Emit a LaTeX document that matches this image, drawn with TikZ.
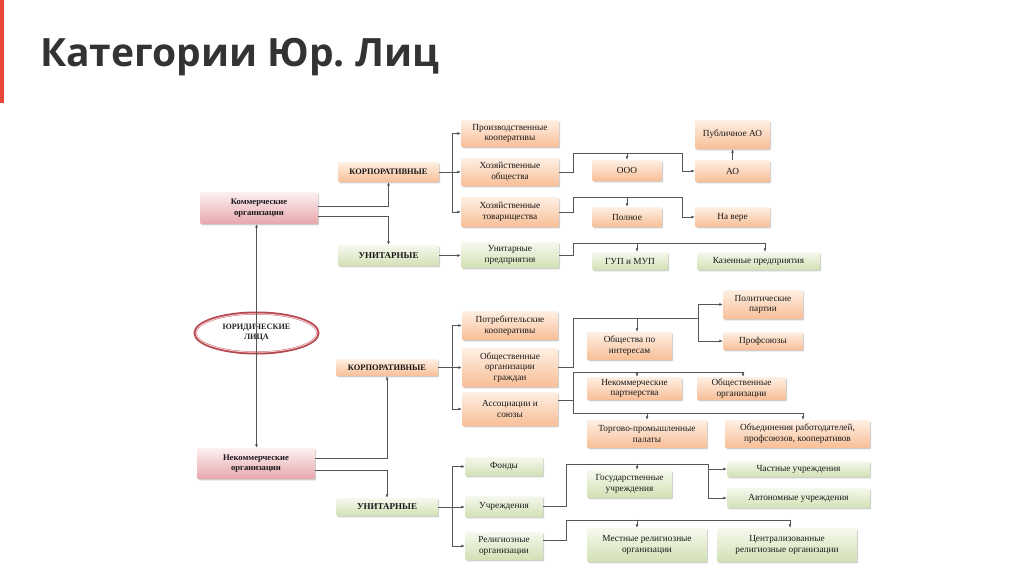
\documentclass[tikz,border=0pt]{standalone}
\usepackage{fontspec}
\setmainfont{Liberation Serif}
\newfontfamily\titlefont{Open Sans}
\usetikzlibrary{arrows.meta,shadows,shapes.geometric}
\definecolor{orT}{HTML}{FEF0E4}
\definecolor{orB}{HTML}{F8BE96}
\definecolor{grT}{HTML}{F6F9EE}
\definecolor{grB}{HTML}{D2E0B4}
\definecolor{pkT}{HTML}{FDF0F1}
\definecolor{pkB}{HTML}{E6A7AC}
\definecolor{lncol}{HTML}{555555}
\definecolor{ringcol}{HTML}{B5474D}
\definecolor{ringin}{HTML}{F4CDD0}
\definecolor{barcol}{HTML}{E8463A}
\definecolor{titlecol}{HTML}{333333}
\frenchspacing
\newcommand\mybox[7]{\node[#6, minimum width={#4-#2}, minimum height={#5-#3}] (#1) at ({(#2+#4)/2},{(#3+#5)/2}) {#7};}
\tikzset{
  box/.style={rectangle, rounded corners=1.2pt, inner sep=0.5pt, align=center, text=black!90,
    font=\fontsize{9.3}{10.8}\selectfont,
    drop shadow={shadow xshift=1.2pt, shadow yshift=-1.3pt, opacity=0.3, fill=black!60}},
  orb/.style={box, top color=orT, bottom color=orB},
  grb/.style={box, top color=grT, bottom color=grB},
  pkb/.style={box, top color=pkT, bottom color=pkB, font=\bfseries\fontsize{8.6}{10.5}\selectfont},
  hdk/.style={font=\bfseries\fontsize{8.4}{10}\selectfont},
  hdu/.style={font=\bfseries\fontsize{9}{10}\selectfont},
  ln/.style={line width=0.6pt, draw=lncol},
  arr/.style={ln, -{Latex[length=3.5pt,width=3pt]}},
}
\begin{document}
\begin{tikzpicture}[x=1pt,y=-1pt]
\useasboundingbox (0,0) rectangle (1024,574);
\fill[white] (0,0) rectangle (1024,574);
\fill[barcol] (0,0) rectangle (4,103);
\node[anchor=base west, inner sep=0, text=titlecol, font=\titlefont\bfseries\fontsize{39}{44}\selectfont] (title) at (40,66) {Категории Юр. Лиц};

% ---------- left column ----------
\mybox{kom}{200}{192}{318}{224}{pkb}{Коммерческие\\организации}
\mybox{nekom}{197}{448}{315}{479}{pkb}{Некоммерческие\\организации}
\node[ellipse, draw=ringcol, line width=3pt, minimum width=123pt, minimum height=40pt, inner sep=0,
  align=center, font=\bfseries\fontsize{8.2}{10}\selectfont, text=black!85] (yur) at (256.5,333) {ЮРИДИЧЕСКИЕ\\ЛИЦА};
\draw[ringin, line width=1pt] (yur.center) ellipse [x radius=60.6, y radius=19.2];
\draw[arr] (yur.center) -- (yur |- kom.south);
\draw[arr] (yur.center) -- (yur |- nekom.north);

% ---------- commercial ----------
\mybox{korp1}{338}{162}{439}{182}{orb,hdk}{КОРПОРАТИВНЫЕ}
\mybox{unit1}{338}{245}{439}{266}{grb,hdu}{УНИТАРНЫЕ}
\mybox{pk}{461}{120}{559}{147}{orb}{Производственные\\кооперативы}
\mybox{ho}{461}{158}{559}{186}{orb}{Хозяйственные\\общества}
\mybox{ht}{461}{197}{559}{227}{orb}{Хозяйственные\\товарищества}
\mybox{up}{461}{242}{559}{268}{grb}{Унитарные\\предприятия}
\mybox{ooo}{592}{160}{662}{181}{orb}{ООО}
\mybox{ao}{695}{160}{770}{182}{orb}{АО}
\mybox{pao}{695}{120}{770}{149}{orb}{Публичное АО}
\mybox{poln}{592}{207}{662}{227}{orb}{Полное}
\mybox{navere}{695}{207}{770}{227}{orb}{На вере}
\mybox{gup}{592}{252}{668}{270}{grb}{ГУП и МУП}
\mybox{kaz}{697}{252}{820}{270}{grb}{Казенные предприятия}

\draw[arr] (kom.east |- 0,206) -| (korp1.south);
\draw[arr] (kom.east |- 0,216) -| (unit1.north);
\draw[arr] (korp1.east) -- (ho.west);
\draw[arr] (korp1.east) -- ++(13,0) |- (pk.west);
\draw[arr] (korp1.east) -- ++(13,0) |- (ht.west);
\draw[arr] (unit1.east) -- (up.west |- unit1.east);
\draw[arr] (ho.east) -- ++(14,0) |- (682,153) |- (ao.west);
\draw[arr] (ooo.north |- 0,153) -- (ooo.north);
\draw[arr] (ao.north) -- (pao.south);
\draw[arr] (ht.east) -- ++(14,0) |- (682,197) |- (navere.west);
\draw[arr] (poln.north |- 0,197) -- (poln.north);
\draw[ln] (up.east) -- ++(14,0) |- (765,243);
\draw[arr] (gup.north -| 637,0) ++(0,-9) -- (gup.north -| 637,0);
\draw[arr] (kaz.north -| 765,0) ++(0,-9) -- (kaz.north -| 765,0);

% ---------- non-commercial ----------
\mybox{korp2}{336}{359}{438}{376}{orb,hdk}{КОРПОРАТИВНЫЕ}
\mybox{unit2}{336}{498}{438}{516}{grb,hdu}{УНИТАРНЫЕ}
\mybox{potr}{462}{311}{558}{340}{orb}{Потребительские\\кооперативы}
\mybox{obsh}{462}{348}{558}{387}{orb}{Общественные\\организации\\граждан}
\mybox{assoc}{462}{392}{558}{426}{orb}{Ассоциации и\\союзы}
\mybox{obint}{587}{332}{672}{360}{orb}{Общества по\\интересам}
\mybox{polit}{723}{290}{803}{319}{orb}{Политические\\партии}
\mybox{prof}{723}{332}{803}{350}{orb}{Профсоюзы}
\mybox{nekp}{587}{377}{682}{400}{orb}{Некоммерческие\\партнерства}
\mybox{obor}{697}{377}{786}{400}{orb}{Общественные\\организации}
\mybox{torg}{587}{420}{707}{448}{orb}{Торгово-промышленные\\палаты}
\mybox{obed}{725}{420}{870}{448}{orb}{Объединения работодателей,\\профсоюзов, кооперативов}

\draw[arr] (nekom.east |- 0,458) -| (korp2.south);
\draw[arr] (nekom.east |- 0,470) -| (unit2.north);
\draw[arr] (korp2.east) -- (obsh.west |- korp2.east);
\draw[arr] (korp2.east) -- ++(14,0) |- (potr.west);
\draw[arr] (korp2.east) -- ++(14,0) |- (assoc.west);
\draw[ln] (obsh.east) -- ++(15,0) |- (698,318);
\draw[arr] (698,318) |- (polit.west);
\draw[arr] (698,318) |- (prof.west);
\draw[arr] (obint.north -| 637,0) ++(0,-14) -- (obint.north -| 637,0);
\draw[ln] (assoc.east |- 0,400) -- (573,400);
\draw[ln] (573,372) -- (573,413);
\draw[ln] (573,372) -- (743,372);
\draw[ln] (573,413) -- (803,413);
\draw[arr] (nekp.north -| 637,0) ++(0,-5) -- (nekp.north -| 637,0);
\draw[arr] (obor.north -| 743,0) ++(0,-5) -- (obor.north -| 743,0);
\draw[arr] (torg.north -| 647,0) ++(0,-7) -- (torg.north -| 647,0);
\draw[arr] (obed.north -| 803,0) ++(0,-7) -- (obed.north -| 803,0);

\mybox{fond}{465}{457}{543}{476}{grb}{Фонды}
\mybox{uchr}{465}{496}{543}{517}{grb}{Учреждения}
\mybox{relig}{465}{532}{543}{560}{grb}{Религиозные\\организации}
\mybox{gos}{587}{470}{672}{498}{grb}{Государственные\\учреждения}
\mybox{chast}{727}{461}{870}{477}{grb}{Частные учреждения}
\mybox{avt}{727}{488}{870}{508}{grb}{Автономные учреждения}
\mybox{mest}{587}{528}{707}{562}{grb}{Местные религиозные\\организации}
\mybox{centr}{717}{528}{857}{562}{grb}{Централизованные\\религиозные организации}

\draw[arr] (unit2.east) -- (uchr.west |- unit2.east);
\draw[arr] (unit2.east) -- ++(14,0) |- (fond.west);
\draw[arr] (unit2.east) -- ++(14,0) |- (relig.west);
\draw[ln] (uchr.east) -- ++(23,0) |- (708,464);
\draw[arr] (708,464) |- (chast.west);
\draw[arr] (708,464) |- (avt.west);
\draw[arr] (gos.north -| 637,0) ++(0,-6) -- (gos.north -| 637,0);
\draw[ln] (relig.east |- 0,540) -- (566,540) |- (790,520);
\draw[arr] (mest.north -| 637,0) ++(0,-8) -- (mest.north -| 637,0);
\draw[arr] (centr.north -| 790,0) ++(0,-8) -- (centr.north -| 790,0);
\end{tikzpicture}
\end{document}
